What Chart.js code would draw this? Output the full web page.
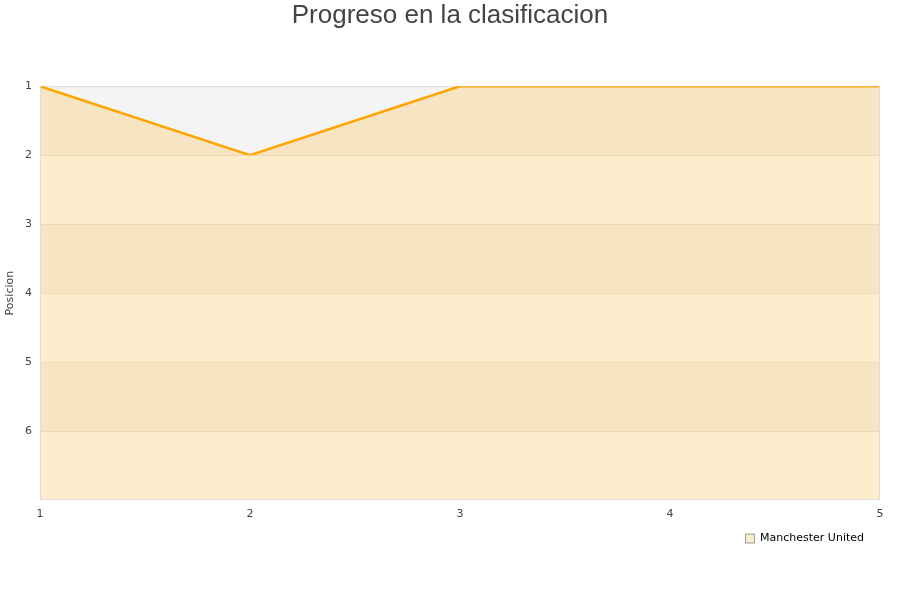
<!DOCTYPE html>
<html>
<head>
<meta charset="utf-8">
<title>Progreso en la clasificacion</title>
<script src="https://cdn.jsdelivr.net/npm/chart.js@4/dist/chart.umd.min.js"></script>
<style>
	html, body { margin: 0; padding: 0; background: #fff; }
	#wrap { width: 900px; height: 600px; }
</style>
</head>
<body>
<div id="wrap"><canvas id="progreso"></canvas></div>
<script>
	// Data
	var jornadas = ['1', '2', '3', '4', '5'];
	var posiciones = [1, 2, 1, 1, 1];
	var equipo = 'Manchester United';
	var posMin = 1;
	var posMax = 7;

	// Colours
	var bandDark = '#f7e4c3';
	var bandLight = '#feedcd';
	var plotBg = '#f4f4f4';
	var frame = '#dddddd';

	// Band fill under the line, built from the y scale
	function bandFill(context) {
		var chart = context.chart;
		var area = chart.chartArea;
		if (!area) return bandLight;
		var y = chart.scales.y;
		var g = chart.ctx.createLinearGradient(0, area.top, 0, area.bottom);
		var h = area.bottom - area.top;
		for (var v = posMin; v < posMax; v++) {
			var c = (v - posMin) % 2 === 0 ? bandDark : bandLight;
			var a = (y.getPixelForValue(v) - area.top) / h;
			var b = (y.getPixelForValue(v + 1) - area.top) / h;
			g.addColorStop(Math.max(0, Math.min(1, a)), c);
			g.addColorStop(Math.max(0, Math.min(1, b)), c);
		}
		return g;
	}

	// Plot background and frame
	var plotFrame = {
		id: 'plotFrame',
		afterLayout: function (chart) {
			// pull the legend a bit closer to the axis
			chart.legend.top -= 5;
			chart.legend.bottom -= 5;
		},
		beforeDatasetsDraw: function (chart) {
			var a = chart.chartArea;
			var ctx = chart.ctx;
			ctx.save();
			ctx.fillStyle = plotBg;
			ctx.fillRect(a.left, a.top, a.right - a.left, a.bottom - a.top);
			ctx.strokeStyle = frame;
			ctx.lineWidth = 1;
			ctx.beginPath();
			ctx.moveTo(a.left, a.top + 0.5);
			ctx.lineTo(a.right, a.top + 0.5);
			ctx.stroke();
			ctx.restore();
		},
		afterDatasetsDraw: function (chart) {
			var a = chart.chartArea;
			var ctx = chart.ctx;
			ctx.save();
			ctx.strokeStyle = frame;
			ctx.lineWidth = 1;
			ctx.beginPath();
			ctx.moveTo(a.left + 0.5, a.top);
			ctx.lineTo(a.left + 0.5, a.bottom - 0.5);
			ctx.lineTo(a.right - 0.5, a.bottom - 0.5);
			ctx.lineTo(a.right - 0.5, a.top);
			ctx.stroke();
			ctx.restore();
		}
	};

	Chart.defaults.font.family = "'DejaVu Sans', sans-serif";
	Chart.defaults.font.size = 11;
	Chart.defaults.color = '#444444';

	var ctx = document.getElementById('progreso').getContext('2d');
	var chart = new Chart(ctx, {
		type: 'line',
		data: {
			labels: jornadas,
			datasets: [
				{
					label: equipo,
					data: posiciones,
					borderColor: '#ffa500',
					borderWidth: 2.5,
					backgroundColor: bandFill,
					fill: { value: posMax },
					pointRadius: 0,
					tension: 0,
				},
			],
		},
		options: {
			responsive: true,
			maintainAspectRatio: false,
			animation: false,
			layout: { padding: { left: 0, right: 0, top: 0, bottom: 41 } },
			plugins: {
				title: {
					display: true,
					text: 'Progreso en la clasificacion',
					color: '#444444',
					font: { family: "'Liberation Sans', Arial, sans-serif", size: 26, weight: 'normal' },
					padding: { top: 0, bottom: 55 },
				},
				legend: {
					position: 'bottom',
					align: 'end',
					fullSize: false,
					labels: {
						color: '#000000',
						boxWidth: 9,
						boxHeight: 9,
						padding: 16,
						generateLabels: function (c) {
							return [
								{
									text: equipo,
									fillStyle: '#feebcb',
									strokeStyle: '#999999',
									lineWidth: 1,
									datasetIndex: 0,
								},
							];
						},
					},
				},
				tooltip: { enabled: false },
			},
			scales: {
				x: {
					offset: false,
					grid: { display: false, drawTicks: false },
					border: { display: false },
					ticks: { padding: 8, maxRotation: 0 },
					afterFit: function (scale) {
						scale.height = 22;
					},
				},
				y: {
					reverse: true,
					min: posMin,
					max: posMax,
					afterFit: function (scale) {
						scale.width = 40;
					},
					title: { display: true, text: 'Posicion', padding: { top: 4, bottom: 0 } },
					grid: {
						z: 1,
						drawTicks: false,
						color: function (c) {
							var v = c.tick && c.tick.value;
							return v === posMin || v === posMax ? 'rgba(0,0,0,0)' : '#efd9b4';
						},
					},
					border: { display: false },
					ticks: {
						stepSize: 1,
						padding: 8,
						callback: function (v) {
							return v === posMax ? '' : v;
						},
					},
				},
				// empty right gutter so the plot ends at the same place
				gutter: {
					axis: 'y',
					position: 'right',
					display: true,
					grid: { display: false, drawTicks: false },
					border: { display: false },
					ticks: { display: false },
					afterFit: function (scale) {
						scale.width = 20;
					},
				},
			},
		},
		plugins: [plotFrame],
	});
</script>
</body>
</html>
